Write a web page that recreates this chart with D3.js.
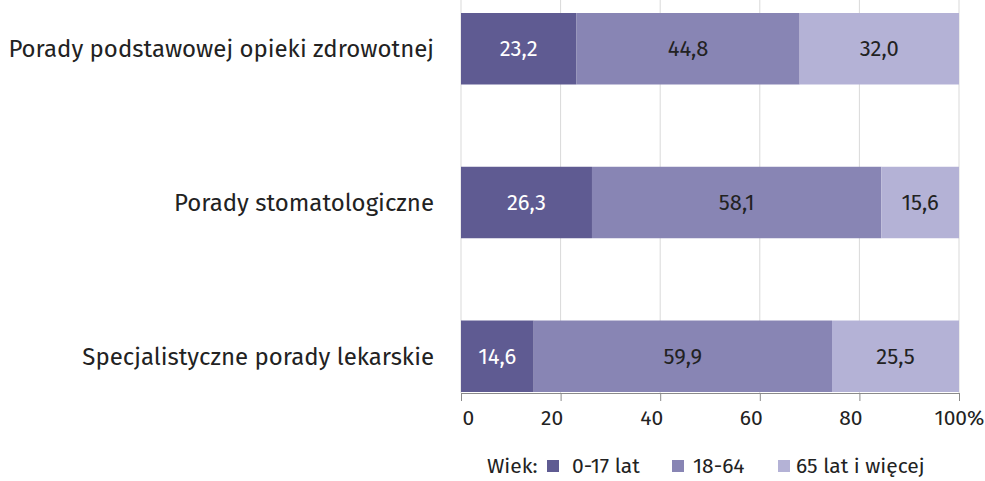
<!DOCTYPE html>
<html><head><meta charset="utf-8">
<script src="https://cdn.jsdelivr.net/npm/d3@7"></script>
<style>body{margin:0;background:#fff}svg{display:block}text{font-family:"Fira Sans","Noto Sans",sans-serif}</style>
</head><body><svg id="c" width="985" height="481"></svg>
<script>
const categories = ["Porady podstawowej opieki zdrowotnej","Porady stomatologiczne","Specjalistyczne porady lekarskie"];
const seriesNames = ["0-17 lat","18-64","65 lat i więcej"];
const s0_17 = [23.2, 26.3, 14.6];
const s18_64 = [44.8, 58.1, 59.9];
const s65 = [32.0, 15.6, 25.5];
const tickValues = [0,20,40,60,80,100];
const colors = ["#5f5b92","#8885b4","#b4b2d6"];
const textColors = ["#ffffff","#222222","#222222"];

const svg = d3.select("#c");
const x = d3.scaleLinear().domain([0,100]).range([461,959]);
const y = d3.scaleBand().domain(categories).range([13,392]).paddingInner(0.535).paddingOuter(0);
const axisY = 393;

// gridlines
svg.append("g").selectAll("line").data(tickValues).join("line")
  .attr("x1",d=>x(d)).attr("x2",d=>x(d)).attr("y1",0).attr("y2",axisY)
  .attr("stroke","#d9d9d9").attr("stroke-width",1);

const series = [s0_17, s18_64, s65];
const rows = categories.map((c,i)=>({cat:c, vals:series.map(s=>s[i])}));
rows.forEach(r=>{
  let acc=0;
  r.segs = r.vals.map((v,k)=>{const s={k, v, x0:acc, x1:acc+v}; acc+=v; return s;});
});

const g = svg.append("g");
rows.forEach(r=>{
  const gr = g.append("g");
  gr.selectAll("rect").data(r.segs).join("rect")
    .attr("x",d=>x(d.x0)).attr("width",d=>x(d.x1)-x(d.x0))
    .attr("y",y(r.cat)).attr("height",y.bandwidth())
    .attr("fill",d=>colors[d.k]);
  gr.selectAll("text").data(r.segs).join("text")
    .attr("x",d=>(x(d.x0)+x(d.x1))/2).attr("y",y(r.cat)+y.bandwidth()/2)
    .attr("dy","0.35em").attr("text-anchor","middle")
    .attr("font-size",22).attr("fill",d=>textColors[d.k])
    .text(d=>d.v.toFixed(1).replace(".",","));
});

// category labels
svg.append("g").selectAll("text").data(categories).join("text")
  .attr("x",434).attr("y",d=>y(d)+y.bandwidth()/2).attr("dy","0.35em")
  .attr("text-anchor","end").attr("font-size",24).attr("fill","#222")
  .text(d=>d);

// axis
const ax = svg.append("g").attr("transform",`translate(0,${axisY})`)
  .call(d3.axisBottom(x).tickValues(tickValues).tickSize(8).tickSizeOuter(0)
    .tickFormat(d=>d===100?"100%":d));
ax.select(".domain").attr("stroke","#8a8a8a");
ax.selectAll(".tick line").attr("stroke","#8a8a8a");
ax.selectAll(".tick text").attr("font-size",21).attr("fill","#222").attr("y",25)
  .attr("dy","0.35em")
  .attr("font-family",'"Fira Sans","Noto Sans",sans-serif')
  .attr("text-anchor",d=>d===0?"start":"middle")
  .attr("dx",d=>d===0?1:(d===100?0:-9));

// legend
const leg = svg.append("g").attr("transform","translate(0,466)");
leg.append("text").attr("x",487).attr("dy","0.35em").attr("font-size",21).attr("fill","#222").text("Wiek:");
const sqx = [547, 672, 778];
const txx = [572, 693, 796];
seriesNames.forEach((n,i)=>{
  leg.append("rect").attr("x",sqx[i]).attr("y",-6).attr("width",12).attr("height",12).attr("fill",colors[i]);
  leg.append("text").attr("x",txx[i]).attr("dy","0.35em").attr("font-size",21).attr("fill","#222").text(n);
});
</script></body></html>
